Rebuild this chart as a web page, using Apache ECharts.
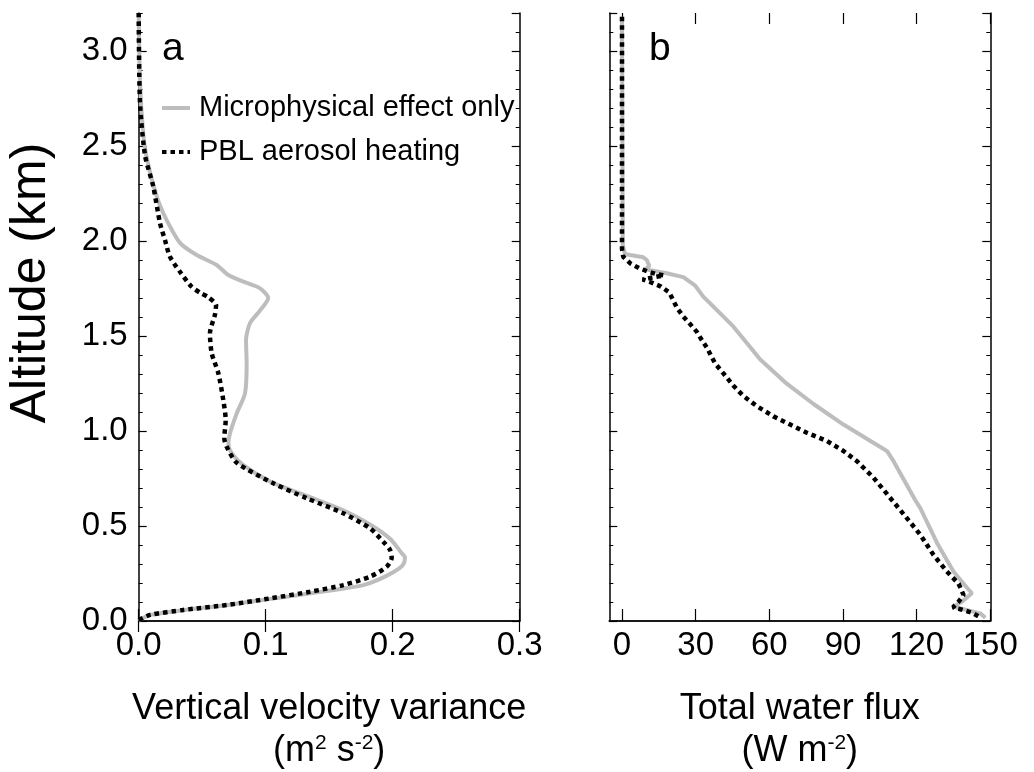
<!DOCTYPE html>
<html>
<head>
<meta charset="utf-8">
<script src="https://cdn.jsdelivr.net/npm/echarts@6/dist/echarts.min.js"></script>
<style>
html,body{margin:0;padding:0;background:#fff;}
#c{width:1034px;height:772px;}
</style>
</head>
<body>
<div id="c"></div>
<script>
// ---- Data ----
// Panel a: vertical velocity variance (m2 s-2) vs altitude (km)
const aMicroX = [0, 0.001, 0.0036, 0.006, 0.0105, 0.016, 0.022, 0.0325, 0.0457, 0.0614, 0.0706, 0.0824, 0.0955, 0.102, 0.095, 0.0876, 0.0845, 0.085, 0.0837, 0.0772, 0.0719, 0.0706, 0.0732, 0.0824, 0.1034, 0.1323, 0.1611, 0.1821, 0.1979, 0.2071, 0.2097, 0.208, 0.200, 0.188, 0.1769, 0.158, 0.142, 0.107, 0.070, 0.036, 0.009, 0];
const aMicroY = [3.20, 2.84, 2.56, 2.45, 2.32, 2.20, 2.11, 1.99, 1.926, 1.874, 1.821, 1.786, 1.751, 1.70, 1.63, 1.567, 1.479, 1.356, 1.198, 1.093, 0.988, 0.935, 0.883, 0.82, 0.734, 0.658, 0.583, 0.508, 0.433, 0.357, 0.333, 0.295, 0.255, 0.215, 0.189, 0.167, 0.152, 0.119, 0.084, 0.058, 0.032, 0.003];
const aPblX = [0, 0.001, 0.005, 0.0115, 0.0168, 0.0207, 0.0246, 0.0325, 0.0417, 0.0483, 0.0548, 0.0609, 0.0601, 0.0561, 0.0575, 0.0627, 0.0666, 0.0685, 0.0674, 0.0693, 0.0772, 0.106, 0.1323, 0.1611, 0.1821, 0.1926, 0.1979, 0.1992, 0.1953, 0.182, 0.161, 0.1349, 0.1034, 0.0693, 0.0351, 0.0089, 0];
const aPblY = [3.20, 2.73, 2.45, 2.286, 2.093, 2.005, 1.917, 1.838, 1.759, 1.728, 1.704, 1.663, 1.614, 1.514, 1.409, 1.304, 1.163, 1.058, 0.962, 0.917, 0.833, 0.725, 0.646, 0.567, 0.488, 0.417, 0.374, 0.333, 0.286, 0.233, 0.189, 0.154, 0.119, 0.084, 0.058, 0.032, 0.005];
// Panel b: total water flux (W m-2) vs altitude (km)
const bMicroX = [0, 0.3, 1.2, 3.3, 8.7, 10.1, 11.1, 9.4, 18.2, 25, 29.8, 33.1, 35.9, 45.4, 51.5, 56.2, 67.1, 78.0, 90.2, 99.7, 107.9, 110.6, 119.4, 121.5, 128.3, 135.0, 140.5, 142.5, 138.5, 135.0, 145.9, 148.0];
const bMicroY = [3.18, 1.979, 1.932, 1.926, 1.914, 1.90, 1.868, 1.851, 1.83, 1.81, 1.765, 1.707, 1.672, 1.549, 1.453, 1.378, 1.249, 1.142, 1.034, 0.959, 0.895, 0.841, 0.637, 0.594, 0.411, 0.261, 0.175, 0.146, 0.102, 0.075, 0.04, 0.017];
const bPblX = [0, 0, 0.5, 3.3, 7.1, 10.7, 14.1, 17.1, 8.4, 12.1, 15.9, 19.2, 22.5, 25.0, 27.7, 30.4, 32.5, 34.5, 37.9, 41.3, 45.4, 49.4, 54.9, 61.7, 68.5, 75.3, 83.4, 90.2, 95.7, 102.4, 107.9, 114.7, 121.5, 126.9, 132.3, 137.1, 139.1, 137.1, 134.8, 137.8, 142.5, 145.9];
const bPblY = [3.18, 1.958, 1.917, 1.883, 1.856, 1.839, 1.826, 1.819, 1.798, 1.781, 1.76, 1.73, 1.646, 1.602, 1.563, 1.523, 1.479, 1.44, 1.356, 1.303, 1.238, 1.185, 1.131, 1.077, 1.034, 0.991, 0.948, 0.895, 0.841, 0.755, 0.669, 0.562, 0.454, 0.347, 0.261, 0.196, 0.137, 0.102, 0.072, 0.062, 0.044, 0.019];

const seriesNames = ['Microphysical effect only', 'PBL aerosol heating'];

// ---- Chart ----
const FONT = '"Liberation Sans", Arial, Helvetica, sans-serif';
const pairs = (xs, ys) => xs.map((x, i) => [x, ys[i]]);
const chart = echarts.init(document.getElementById('c'), null, {renderer: 'canvas'});

const gridBase = {top: 13, height: 608, containLabel: false, outerBoundsMode: 'none'};
const G = [
  Object.assign({left: 138.7, width: 381}, gridBase),   // panel a
  Object.assign({left: 622, width: 368.3}, gridBase),   // panel b data area (x from 0)
  Object.assign({left: 609.3, width: 381}, gridBase)    // panel b frame (x from about -5)
];
const lineAxis = {show: true, lineStyle: {color: '#000', width: 1.5}};
const TICKFONT = 33;

function yAxes(gi, withLabels) {
  const base = {type: 'value', gridIndex: gi, min: 0, max: 3.2, splitLine: {show: false}};
  return [
    Object.assign({}, base, {
      position: 'left', interval: 0.5, axisLine: lineAxis,
      axisTick: {show: true, inside: true, length: 8, lineStyle: {color: '#000', width: 1.2}},
      axisLabel: {show: withLabels, showMaxLabel: false, formatter: v => (v > 3.1 ? '' : v.toFixed(1)),
                  fontSize: TICKFONT, fontFamily: FONT, color: '#000', margin: 11}
    }),
    Object.assign({}, base, {
      position: 'left', interval: 0.1, axisLine: {show: false},
      axisTick: {show: true, inside: true, length: 4, lineStyle: {color: '#000', width: 1}},
      axisLabel: {show: false}
    }),
    Object.assign({}, base, {
      position: 'right', interval: 0.5, axisLine: lineAxis,
      axisTick: {show: true, inside: true, length: 8, lineStyle: {color: '#000', width: 1.2}},
      axisLabel: {show: false}
    }),
    Object.assign({}, base, {
      position: 'right', interval: 0.1, axisLine: {show: false},
      axisTick: {show: true, inside: true, length: 4, lineStyle: {color: '#000', width: 1}},
      axisLabel: {show: false}
    })
  ];
}

const nameRich = {
  t: {fontSize: 36, lineHeight: 42, fontFamily: FONT, color: '#000'},
  s: {fontSize: 21, fontFamily: FONT, color: '#000', padding: [0, 0, 16, 0]}
};
const nameStyle = {fontSize: 36, lineHeight: 42, fontFamily: FONT, color: '#000', rich: nameRich};

const option = {
  animation: false,
  backgroundColor: '#fff',
  grid: G,
  legend: {
    show: true, orient: 'vertical', left: 160, top: 92, padding: 0,
    itemWidth: 28, itemHeight: 14, itemGap: 12, selectedMode: false,
    itemStyle: {opacity: 0},
    lineStyle: {width: 4},
    textStyle: {fontSize: 29, fontFamily: FONT, color: '#000', lineHeight: 32, padding: [0, 0, 0, 4]},
    data: seriesNames
  },
  xAxis: [
    // panel a
    {
      type: 'value', gridIndex: 0, position: 'bottom', min: 0, max: 0.3, interval: 0.1,
      axisLine: {show: true, lineStyle: {color: '#333', width: 1.5}}, splitLine: {show: false},
      axisTick: {show: true, inside: true, length: 12, lineStyle: {color: '#000', width: 1.2}},
      axisLabel: {formatter: v => v.toFixed(1), fontSize: TICKFONT, fontFamily: FONT, color: '#000', margin: 8},
      name: '{t|Vertical velocity variance}\n{t|(m}{s|2}{t| s}{s|-2}{t|)}',
      nameLocation: 'middle', nameGap: 67, nameTextStyle: nameStyle
    },
    {
      type: 'value', gridIndex: 0, position: 'top', min: 0, max: 0.3, interval: 0.1,
      axisLine: lineAxis, splitLine: {show: false},
      axisTick: {show: true, inside: true, length: 11, lineStyle: {color: '#000', width: 1.2}},
      axisLabel: {show: false}
    },
    // panel b: data axis (0..150)
    {
      type: 'value', gridIndex: 1, position: 'bottom', min: 0, max: 150, interval: 30,
      axisLine: {show: false}, splitLine: {show: false},
      axisTick: {show: true, inside: true, length: 12, lineStyle: {color: '#000', width: 1.2}},
      axisLabel: {fontSize: TICKFONT, fontFamily: FONT, color: '#000', margin: 8}
    },
    {
      type: 'value', gridIndex: 1, position: 'top', min: 0, max: 150, interval: 30,
      axisLine: {show: false}, splitLine: {show: false},
      axisTick: {show: true, inside: true, length: 11, lineStyle: {color: '#000', width: 1.2}},
      axisLabel: {show: false}
    },
    // panel b: frame axes
    {
      type: 'value', gridIndex: 2, position: 'bottom', min: 0, max: 1,
      axisLine: {show: true, lineStyle: {color: '#333', width: 1.5}}, splitLine: {show: false},
      axisTick: {show: false}, axisLabel: {show: false},
      name: '{t|Total water flux}\n{t|(W m}{s|-2}{t|)}',
      nameLocation: 'middle', nameGap: 67, nameTextStyle: nameStyle
    },
    {
      type: 'value', gridIndex: 2, position: 'top', min: 0, max: 1,
      axisLine: lineAxis, splitLine: {show: false},
      axisTick: {show: false}, axisLabel: {show: false}
    }
  ],
  yAxis: yAxes(0, true).concat([
    {type: 'value', gridIndex: 1, min: 0, max: 3.2, show: false}
  ]).concat(yAxes(2, false)),
  graphic: [
    {type: 'text', x: 31, y: 283, rotation: Math.PI / 2,
     style: {text: 'Altitude (km)', fontSize: 50, fontFamily: FONT, fill: '#000', align: 'center', verticalAlign: 'middle'}},
    {type: 'text', x: 162, y: 49, style: {text: 'a', fontSize: 39, fontFamily: FONT, fill: '#000', align: 'left', verticalAlign: 'middle'}},
    {type: 'text', x: 649, y: 49, style: {text: 'b', fontSize: 39, fontFamily: FONT, fill: '#000', align: 'left', verticalAlign: 'middle'}}
  ],
  series: [
    {name: seriesNames[0], type: 'line', xAxisIndex: 0, yAxisIndex: 0, data: pairs(aMicroX, aMicroY),
     symbol: 'none', smooth: 0.25, lineStyle: {color: '#bdbdbd', width: 4}, itemStyle: {color: '#bdbdbd'}, z: 2},
    {name: seriesNames[1], type: 'line', xAxisIndex: 0, yAxisIndex: 0, data: pairs(aPblX, aPblY),
     symbol: 'none', smooth: 0.25, lineStyle: {color: '#000', width: 4.5, type: [4.5, 4], cap: 'butt'}, itemStyle: {color: '#000'}, z: 3},
    {name: seriesNames[0], type: 'line', xAxisIndex: 2, yAxisIndex: 4, data: pairs(bMicroX, bMicroY),
     symbol: 'none', smooth: false, clip: false, lineStyle: {color: '#bdbdbd', width: 4}, itemStyle: {color: '#bdbdbd'}, z: 2},
    {name: seriesNames[1], type: 'line', xAxisIndex: 2, yAxisIndex: 4, data: pairs(bPblX, bPblY),
     symbol: 'none', smooth: false, clip: false, lineStyle: {color: '#000', width: 4.5, type: [4.5, 4], cap: 'butt'}, itemStyle: {color: '#000'}, z: 3}
  ]
};
chart.setOption(option);
</script>
</body>
</html>
